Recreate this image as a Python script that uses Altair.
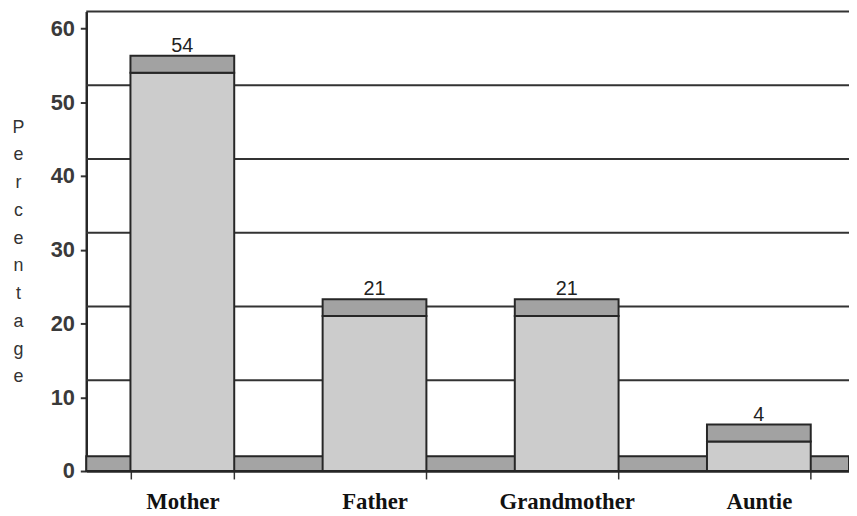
import altair as alt
import pandas as pd

# ---- data ----
categories = ["Mother", "Father", "Grandmother", "Auntie"]
percentages = [54, 21, 21, 4]
y_ticks = [0, 10, 20, 30, 40, 50, 60]
wall_lines = [10, 20, 30, 40, 50, 60]

# 3-D look (style constants)
DEPTH = 2.3
FLOOR = 2.0
YMAX = 60 + DEPTH

bars = pd.DataFrame({"who": categories, "pct": percentages})
walls = pd.DataFrame({"level": wall_lines})
floor = pd.DataFrame({"lo": [0.0], "hi": [FLOOR]})

ink = "#262626"
yscale = alt.Scale(domain=[0, YMAX], nice=False, zero=True)
xscale = alt.Scale(range=[0, 776], paddingInner=0.46, paddingOuter=0.23)

x_enc = alt.X(
    "who:N",
    sort=categories,
    scale=xscale,
    axis=alt.Axis(
        title=None,
        labelAngle=0,
        labelFont="Liberation Serif",
        labelFontWeight="bold",
        labelFontSize=23,
        labelColor="#111111",
        labelPadding=12,
        tickBand="extent",
        tickSize=8,
        tickWidth=1.5,
        tickColor="#333333",
        domainColor=ink,
        domainWidth=2.5,
    ),
)

y_axis = alt.Axis(
    values=y_ticks,
    title=list("Percentage"),
    titleAngle=0,
    titleX=-69,
    titleY=122,
    titleAlign="center",
    titleBaseline="alphabetic",
    titleLineHeight=28,
    titleFont="Liberation Sans",
    titleFontSize=18,
    titleFontWeight="normal",
    titleColor="#333333",
    labelFont="Liberation Sans",
    labelFontSize=22,
    labelFontWeight="bold",
    labelColor="#3a3a3a",
    labelPadding=6,
    tickSize=6,
    tickWidth=2,
    tickColor="#333333",
    domainColor=ink,
    domainWidth=2.5,
    grid=False,
)

wall = (
    alt.Chart(walls)
    .transform_calculate(yb=f"datum.level + {DEPTH}")
    .mark_rule(color="#333333", strokeWidth=2)
    .encode(y=alt.Y("yb:Q", scale=yscale, axis=y_axis))
)

floor_layer = (
    alt.Chart(floor)
    .mark_rect(fill="#a4a4a4", stroke=ink, strokeWidth=2)
    .encode(y=alt.Y("lo:Q", scale=yscale, axis=y_axis), y2="hi:Q")
)

front = (
    alt.Chart(bars)
    .mark_bar(fill="#cccccc", stroke=ink, strokeWidth=2)
    .encode(x=x_enc, y=alt.Y("pct:Q", scale=yscale, axis=y_axis))
)

top = (
    alt.Chart(bars)
    .transform_calculate(top=f"datum.pct + {DEPTH}")
    .mark_bar(fill="#a2a2a2", stroke=ink, strokeWidth=2)
    .encode(x=x_enc, y=alt.Y("top:Q", scale=yscale, axis=y_axis), y2="pct:Q")
)

labels = (
    alt.Chart(bars)
    .transform_calculate(top=f"datum.pct + {DEPTH}")
    .mark_text(dy=-4, baseline="alphabetic", font="Liberation Sans",
               fontSize=20, color="#222222")
    .encode(x=x_enc, y=alt.Y("top:Q", scale=yscale, axis=y_axis), text="pct:Q")
)

chart = (
    alt.layer(wall, floor_layer, front, top, labels)
    .properties(
        width=770,
        height=464,
        autosize=alt.AutoSizeParams(type="none"),
        padding={"left": 79, "top": 1, "right": 0, "bottom": 48},
        background="white",
    )
    .configure_view(stroke=None)
)

chart.save("out.html", embed_options={"renderer": "svg", "actions": False})
